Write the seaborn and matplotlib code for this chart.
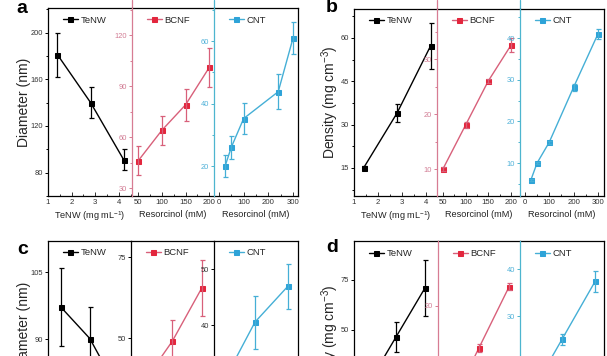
import numpy as np
import pandas as pd
import matplotlib
matplotlib.use("Agg")
import matplotlib.pyplot as plt
import seaborn as sns
from matplotlib.ticker import MultipleLocator, AutoMinorLocator
from matplotlib.lines import Line2D

sns.set_style("ticks")
plt.rcParams['font.family'] = ['Liberation Sans', 'DejaVu Sans']
plt.rcParams['mathtext.fontset'] = 'custom'
plt.rcParams['mathtext.rm'] = 'Liberation Sans'
plt.rcParams['mathtext.it'] = 'Liberation Sans:italic'

# ---------------- data ----------------
tenw_conc = [1.4, 2.8, 4.2]
bcnf_res = [50, 100, 150, 200]
cnt_res_a = [25, 50, 100, 240, 300]
cnt_res_b = [25, 50, 100, 200, 300]

a_tenw = [181, 140, 91]
a_tenw_err = [19, 13, 9]
a_bcnf = [46, 64, 79, 101]
a_bcnf_err = [8.5, 8.5, 9.5, 11.5]
a_cnt = [20, 26, 35.2, 43.8, 61]
a_cnt_err = [3.4, 3.7, 5, 5.6, 5]

b_tenw = [15, 34, 57.2]
b_tenw_err = [0.7, 3, 8]
b_bcnf = [10, 18, 26, 32.5]
b_bcnf_err = [0.3, 0.5, 0.4, 1.3]
b_cnt = [6, 10, 15, 28.2, 41]
b_cnt_err = [0.3, 0.3, 0.4, 0.8, 1.2]

cd_tenw_conc = [1.4, 2.8, 4.2]
cd_bcnf_res = [100, 150, 200]
cd_cnt_res = [100, 200, 300]

c_tenw = [97.2, 90.2, 78.4]
c_tenw_err = [8.7, 7, 6]
c_bcnf = [36, 49, 65.4]
c_bcnf_err = [5, 6.6, 8.6]
c_cnt = [29.5, 40.6, 47]
c_cnt_err = [4, 4.7, 4]

d_tenw = [22, 46.5, 71]
d_tenw_err = [5, 7.7, 14]
d_bcnf = [7.1, 14.75, 22.4]
d_bcnf_err = [0.4, 0.5, 0.4]
d_cnt = [12.8, 25.1, 37.4]
d_cnt_err = [0.8, 1.2, 2.3]

series_names = ["TeNW", "BCNF", "CNT"]
xlabel_tenw = r"TeNW (mg mL$^{-1}$)"
xlabel_res = "Resorcinol (mM)"

# ---------------- styles ----------------
W, H = 607, 356
fig = plt.figure(figsize=(W / 100, H / 100), dpi=100)

STY = {
    "TeNW": dict(line="black", marker="black", spine="black", tick="#333333"),
    "BCNF": dict(line="#d8607a", marker="#e3263d", spine="#d77c93", tick="#d27c94"),
    "CNT": dict(line="#45afd6", marker="#2ea3d8", spine="#4db5cf", tick="#4fb1d8"),
}


def px_axes(x0, x1, y0, y1):
    return fig.add_axes([x0 / W, 1 - y1 / H, (x1 - x0) / W, (y1 - y0) / H])


def draw(ax, name, x, y, err, xlim, ylim, xmaj, xmin, ymaj, yminor, position,
         black_divider=False, extend_top=0, xlabel=None, show_xticklabels=True):
    s = STY[name]
    df = pd.DataFrame({"x": x, "y": y})
    sns.lineplot(data=df, x="x", y="y", ax=ax, color=s["line"], marker="s",
                 markersize=3.6, markerfacecolor=s["marker"],
                 markeredgecolor=s["marker"], linewidth=1.0, label=name)
    ax.errorbar(x, y, yerr=err, fmt="none", ecolor=s["line"] if name != "TeNW" else "black",
                elinewidth=0.9, capsize=1.8, capthick=0.9)
    ax.set_xlim(*xlim)
    ax.set_ylim(*ylim)
    ax.set_xlabel("")
    ax.set_ylabel("")
    ax.patch.set_alpha(0)
    for sp in ax.spines.values():
        sp.set_color("black")
        sp.set_linewidth(0.9)
    spcol = "black" if (black_divider or name == "TeNW") else s["spine"]
    tickcol = "#333333" if (black_divider or name == "TeNW") else s["tick"]
    ax.spines["left"].set_color(spcol)
    ax.spines["left"].set_zorder(5)
    ax.spines["right"].set_visible(position == 2)
    ax.xaxis.set_major_locator(MultipleLocator(xmaj))
    ax.xaxis.set_minor_locator(MultipleLocator(xmin))
    ax.yaxis.set_major_locator(MultipleLocator(ymaj))
    if yminor:
        ax.yaxis.set_minor_locator(AutoMinorLocator(2))
    ax.tick_params(axis="x", which="both", direction="in", bottom=True, top=False,
                   labelsize=5.6, pad=2.2, colors="#333333", width=0.7)
    ax.tick_params(axis="x", which="major", length=2.6)
    ax.tick_params(axis="x", which="minor", length=1.4)
    ax.tick_params(axis="y", which="both", direction="out", left=True, right=False,
                   labelsize=5.4, pad=1.0, colors=spcol, labelcolor=tickcol, width=0.7)
    ax.tick_params(axis="y", which="major", length=2.4)
    ax.tick_params(axis="y", which="minor", length=1.3)
    if not show_xticklabels:
        ax.tick_params(axis="x", labelbottom=False)
    ax.legend(loc="upper left", bbox_to_anchor=(0.155, 0.97), frameon=False,
              fontsize=6.8, handlelength=1.6, handletextpad=0.3,
              borderaxespad=0, borderpad=0.2)
    if extend_top and position > 0:
        ln = Line2D([0, 0], [1, 1 + extend_top], transform=ax.transAxes,
                    color=spcol, linewidth=0.9, clip_on=False)
        ax.add_line(ln)
    if xlabel:
        ax.set_xlabel(xlabel, fontsize=6.6, labelpad=2.5, color="#222222")
    return ax


# ---------------- panel a ----------------
top_a, bot_a = 8, 196
a0 = px_axes(48, 132, top_a, bot_a)
a1 = px_axes(132, 214, top_a, bot_a)
a2 = px_axes(214, 298, top_a, bot_a)
ext = 8 / (bot_a - top_a)
draw(a0, "TeNW", tenw_conc, a_tenw, a_tenw_err, (1, 4.55), (60, 221), 1, 0.5, 40, True, 0,
     xlabel=xlabel_tenw)
draw(a1, "BCNF", bcnf_res, a_bcnf, a_bcnf_err, (37, 210), (25.3, 136), 50, 25, 30, True, 1,
     extend_top=ext, xlabel=xlabel_res)
draw(a2, "CNT", cnt_res_a, a_cnt, a_cnt_err, (-20, 320), (10.4, 70.6), 100, 50, 20, True, 2,
     extend_top=ext, xlabel=xlabel_res)
a0.set_ylabel("Diameter (nm)", fontsize=10, labelpad=0)

# ---------------- panel b ----------------
top_b, bot_b = 9, 196
b0 = px_axes(354, 437, top_b, bot_b)
b1 = px_axes(437, 520, top_b, bot_b)
b2 = px_axes(520, 604, top_b, bot_b)
ext = 9 / (bot_b - top_b)
draw(b0, "TeNW", tenw_conc, b_tenw, b_tenw_err, (1, 4.47), (5.3, 70), 1, 0.5, 15, True, 0,
     xlabel=xlabel_tenw)
draw(b1, "BCNF", bcnf_res, b_bcnf, b_bcnf_err, (37, 220), (5.1, 39.1), 50, 25, 10, True, 1,
     extend_top=ext, xlabel=xlabel_res)
draw(b2, "CNT", cnt_res_b, b_cnt, b_cnt_err, (-20, 325), (2.1, 47), 100, 50, 10, True, 2,
     extend_top=ext, xlabel=xlabel_res)
b0.set_ylabel(r"Density (mg cm$^{-3}$)", fontsize=10, labelpad=0)

# ---------------- panel c ----------------
top_c, bot_c = 241, 411
c0 = px_axes(48, 131, top_c, bot_c)
c1 = px_axes(131, 214, top_c, bot_c)
c2 = px_axes(214, 298, top_c, bot_c)
draw(c0, "TeNW", cd_tenw_conc, c_tenw, c_tenw_err, (0.77, 4.8), (74, 112), 1, 0.5, 15, False, 0,
     show_xticklabels=False)
draw(c1, "BCNF", cd_bcnf_res, c_bcnf, c_bcnf_err, (80, 221), (27.5, 80), 50, 25, 25, False, 1,
     black_divider=True, show_xticklabels=False)
draw(c2, "CNT", cd_cnt_res, c_cnt, c_cnt_err, (76, 330), (24.8, 55), 100, 50, 10, False, 2,
     black_divider=True, show_xticklabels=False)
c0.set_ylabel("Diameter (nm)", fontsize=10, labelpad=0)

# ---------------- panel d ----------------
top_d, bot_d = 241, 441
d0 = px_axes(354, 438, top_d, bot_d)
d1 = px_axes(438, 520, top_d, bot_d)
d2 = px_axes(520, 604, top_d, bot_d)
draw(d0, "TeNW", cd_tenw_conc, d_tenw, d_tenw_err, (0.77, 4.83), (-5.5, 94.5), 1, 0.5, 25, False, 0,
     show_xticklabels=False)
draw(d1, "BCNF", cd_bcnf_res, d_bcnf, d_bcnf_err, (82, 218), (3.1, 28.1), 50, 25, 10, False, 1,
     show_xticklabels=False)
draw(d2, "CNT", cd_cnt_res, d_cnt, d_cnt_err, (73, 327), (3.5, 46), 100, 50, 10, False, 2,
     show_xticklabels=False)
d0.set_ylabel(r"Density (mg cm$^{-3}$)", fontsize=10, labelpad=0)

# ---------------- panel letters ----------------
for lbl, (px, py) in {"a": (22, 8.5), "b": (332, 7.5), "c": (22.5, 250), "d": (332, 248)}.items():
    fig.text(px / W, 1 - py / H, lbl, fontsize=14, fontweight="bold",
             ha="center", va="center", color="black")

fig.savefig("out.png", dpi=100)
